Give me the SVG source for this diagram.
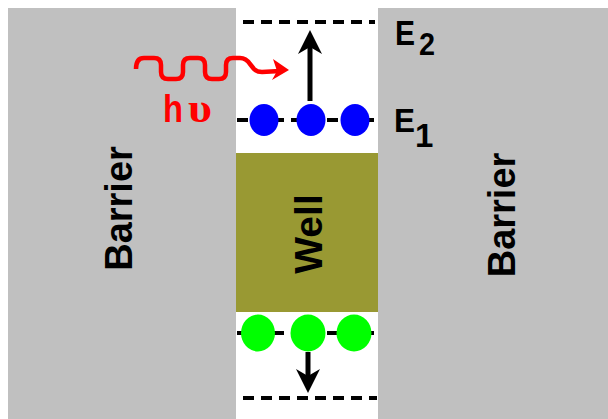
<svg xmlns="http://www.w3.org/2000/svg" width="608" height="419" viewBox="0 0 608 419">
<style>
.lbl{font-family:"Liberation Sans",Arial,sans-serif;font-weight:bold;fill:#000}
.lvl{stroke:#000;stroke-width:4;stroke-dasharray:11 7;fill:none}
.arr{stroke:#000;stroke-width:5;fill:none}
</style>
<rect width="608" height="419" fill="#fff"/>
<g id="barrier-left">
<rect x="8" y="8" width="228" height="411" fill="#c0c0c0"/>
<text class="lbl" font-size="38" text-anchor="middle" transform="translate(132,208.5) rotate(-90)">Barrier</text>
</g>
<g id="barrier-right">
<rect x="378" y="8" width="230" height="411" fill="#c0c0c0"/>
<text class="lbl" font-size="38" text-anchor="middle" transform="translate(515,215) rotate(-90)">Barrier</text>
</g>
<g id="well">
<rect x="236" y="153" width="142" height="159" fill="#999933"/>
<text class="lbl" font-size="39" text-anchor="middle" transform="translate(322,234) rotate(-90)">Well</text>
</g>
<g id="level-E2">
<line class="lvl" x1="243" y1="22" x2="375" y2="22"/>
<text class="lbl" font-size="35" x="395" y="45" textLength="20" lengthAdjust="spacingAndGlyphs">E</text>
<text class="lbl" font-size="32" x="419" y="55" textLength="16" lengthAdjust="spacingAndGlyphs">2</text>
</g>
<g id="level-E1">
<line class="lvl" x1="237" y1="120" x2="377" y2="120" stroke-dasharray="9 5"/>
<ellipse cx="264" cy="120" rx="14.5" ry="16" fill="#0000ff"/>
<ellipse cx="311" cy="120" rx="14.5" ry="16" fill="#0000ff"/>
<ellipse cx="355" cy="120" rx="14.5" ry="16" fill="#0000ff"/>
<text class="lbl" font-size="34" x="394" y="132" textLength="21" lengthAdjust="spacingAndGlyphs">E</text>
<text class="lbl" font-size="33" x="415" y="147">1</text>
</g>
<g id="level-hole">
<line class="lvl" x1="237" y1="333" x2="377" y2="333" stroke-dasharray="9 5"/>
<ellipse cx="258" cy="333" rx="17" ry="18.5" fill="#00ff00"/>
<ellipse cx="308" cy="333" rx="17.5" ry="18.5" fill="#00ff00"/>
<ellipse cx="354" cy="333" rx="17.5" ry="18.5" fill="#00ff00"/>
</g>
<g id="level-bottom">
<line class="lvl" x1="243" y1="398" x2="377" y2="398"/>
</g>
<g id="photon">
<path d="M136,69 Q136,58 144,58 L154,58 Q161,58 161,65 L161,72 Q161,79 168,79 L176,79 Q183,79 183,72 L183,65 Q183,58 190,58 L198,58 Q205,58 205,65 L205,72 Q205,79 212,79 L219,79 Q226,79 226,72 L226,65 Q226,58 233,58 L240,58 Q246,58 250,64 L254,69 Q257,72 262,72 L280,71" stroke="#ff0000" stroke-width="4.5" fill="none" stroke-linejoin="round"/>
<path d="M289,70 L273,59 L277,71 L272,80 Z" fill="#ff0000"/>
<text font-family="'Liberation Sans',Arial,sans-serif" font-weight="bold" font-size="39" fill="#ff0000" x="163" y="122" textLength="20" lengthAdjust="spacingAndGlyphs">h</text>
<text font-family="'Liberation Serif','Times New Roman',serif" font-weight="bold" font-size="40" fill="#ff0000" x="188" y="122" textLength="24" lengthAdjust="spacingAndGlyphs">υ</text>
</g>
<g id="connectors">
<line class="arr" x1="310" y1="101" x2="310" y2="42"/>
<path d="M310,30 L322,54 L310,47 L298,54 Z" fill="#000"/>
<line class="arr" x1="308" y1="352" x2="308" y2="382"/>
<path d="M308,393 L320,369 L308,376 L296,369 Z" fill="#000"/>
</g>
</svg>
